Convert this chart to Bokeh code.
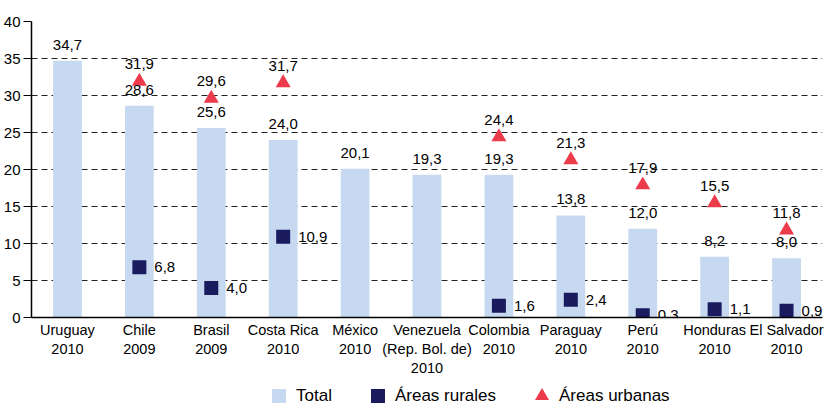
from bokeh.plotting import figure
from bokeh.layouts import column
from bokeh.models import ColumnDataSource, Legend, LegendItem, FactorRange, Range1d, FixedTicker
from bokeh.core.properties import value
from bokeh.embed import file_html
from bokeh.resources import INLINE

countries = ["Uruguay\n2010", "Chile\n2009", "Brasil\n2009", "Costa Rica\n2010", "México\n2010",
             "Venezuela\n(Rep. Bol. de)\n2010", "Colombia\n2010", "Paraguay\n2010", "Perú\n2010",
             "Honduras\n2010", "El Salvador\n2010"]
total = [34.7, 28.6, 25.6, 24.0, 20.1, 19.3, 19.3, 13.8, 12.0, 8.2, 8.0]
rural = [None, 6.8, 4.0, 10.9, None, None, 1.6, 2.4, 0.3, 1.1, 0.9]
urban = [None, 31.9, 29.6, 31.7, None, None, 24.4, 21.3, 17.9, 15.5, 11.8]
yticks = [0, 5, 10, 15, 20, 25, 30, 35, 40]
series_names = ["Total", "Áreas rurales", "Áreas urbanas"]

FONT = "Liberation Sans"
BAR_C = "#C6D9F0"
RUR_C = "#1A1A5E"
URB_C = "#EC3B4B"
NAN = float("nan")


def fmt(v):
    return f"{v:.1f}".replace(".", ",")


src_t = ColumnDataSource(dict(x=countries, y=total, lab=[fmt(v) for v in total]))
rx = [c for c, v in zip(countries, rural) if v is not None]
ry = [v for v in rural if v is not None]
src_r = ColumnDataSource(dict(x=rx, y=ry, lab=[fmt(v) for v in ry]))
ux = [c for c, v in zip(countries, urban) if v is not None]
uy = [v for v in urban if v is not None]
src_u = ColumnDataSource(dict(x=ux, y=uy, lab=[fmt(v) for v in uy]))

p = figure(width=824, height=379, x_range=FactorRange(*countries, range_padding=0),
           y_range=Range1d(yticks[0], yticks[-1]), output_backend="svg", toolbar_location=None,
           min_border_left=30, min_border_right=2, min_border_top=21, min_border_bottom=62)
p.outline_line_color = None
p.background_fill_color = "white"
p.border_fill_color = "white"

bars = p.vbar(x="x", top="y", width=0.4, source=src_t, fill_color=BAR_C, line_color=None)
sq = p.scatter(x="x", y="y", source=src_r, marker="square", size=14, fill_color=RUR_C, line_color=None)
tri = p.scatter(x="x", y="y", source=src_u, marker="triangle", size=15, fill_color=URB_C, line_color=None)

p.text(x="x", y="y", text="lab", source=src_t, text_align="center", text_baseline="bottom",
       y_offset=-11, text_font_size="15px", text_font=value(FONT), text_color="#000000")
p.text(x="x", y="y", text="lab", source=src_r, text_align="left", text_baseline="middle",
       x_offset=15, text_font_size="15px", text_font=value(FONT), text_color="#000000")
p.text(x="x", y="y", text="lab", source=src_u, text_align="center", text_baseline="bottom",
       y_offset=-12, text_font_size="15px", text_font=value(FONT), text_color="#000000")

# axes
p.yaxis.ticker = FixedTicker(ticks=yticks)
p.yaxis.major_label_text_font = FONT
p.yaxis.major_label_text_font_size = "15px"
p.yaxis.major_label_text_color = "#000000"
p.yaxis.major_tick_out = 8
p.yaxis.major_tick_in = 0
p.yaxis.minor_tick_line_color = None
p.yaxis.axis_line_color = "#000000"
p.yaxis.axis_line_width = 1.5
p.yaxis.major_tick_line_color = "#000000"
p.yaxis.major_label_standoff = 3

p.xaxis.major_label_text_font = FONT
p.xaxis.major_label_text_font_size = "14.5px"
p.xaxis.major_label_text_color = "#000000"
p.xaxis.major_tick_line_color = None
p.xaxis.major_tick_out = 0
p.xaxis.major_tick_in = 0
p.xaxis.axis_line_color = "#000000"
p.xaxis.axis_line_width = 1.5
p.xaxis.major_label_standoff = 4

p.xgrid.grid_line_color = None
p.ygrid.grid_line_color = "#222222"
p.ygrid.grid_line_dash = "6 4"
p.ygrid.grid_line_width = 1

# legend strip (legend proxies hold no visible points)
pl = figure(width=824, height=26, x_range=Range1d(0, 1), y_range=Range1d(0, 1),
            output_backend="svg", toolbar_location=None, x_axis_location=None, y_axis_location=None,
            min_border=0)
pl.outline_line_color = None
pl.grid.visible = False
proxy = ColumnDataSource(dict(x=[NAN], y=[NAN]))
lt = pl.scatter(x="x", y="y", source=proxy, marker="square", size=14, fill_color=BAR_C, line_color=None)
lr = pl.scatter(x="x", y="y", source=proxy, marker="square", size=14, fill_color=RUR_C, line_color=None)
lu = pl.scatter(x="x", y="y", source=proxy, marker="triangle", size=15, fill_color=URB_C, line_color=None)

legend = Legend(items=[LegendItem(label=series_names[0], renderers=[lt]),
                       LegendItem(label=series_names[1], renderers=[lr]),
                       LegendItem(label=series_names[2], renderers=[lu])],
                orientation="horizontal", location=(230, -8),
                label_text_font=FONT, label_text_font_size="17px", label_text_color="#000000",
                glyph_width=35, glyph_height=35, label_standoff=0, spacing=28,
                padding=0, margin=0, border_line_color=None, background_fill_alpha=0,
                label_height=17)
pl.add_layout(legend, "center")

layout = column(p, pl, spacing=0)
open("out.html", "w").write(file_html(layout, INLINE))
